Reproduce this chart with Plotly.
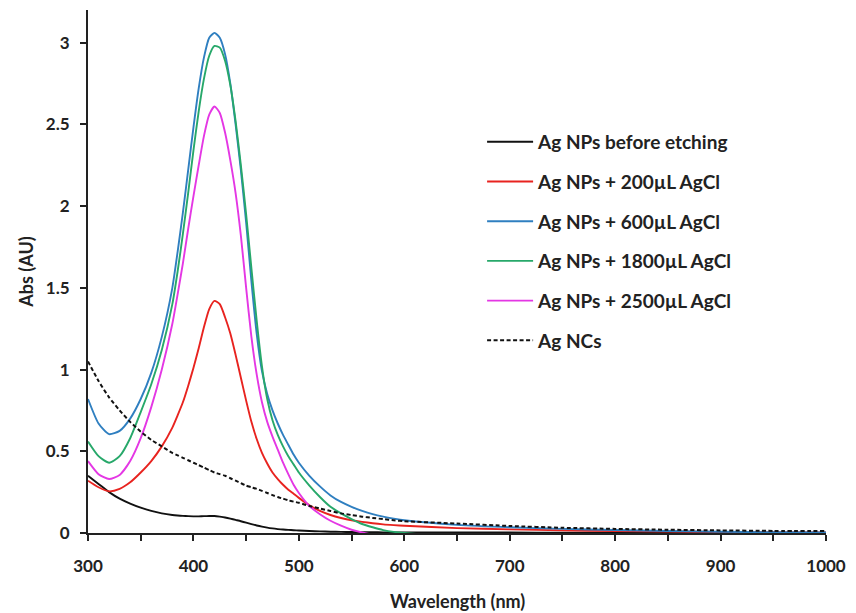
import plotly.graph_objects as go

# Wavelength grid (nm) shared by all spectra; finer steps around the plasmon band
wavelength = [300, 310, 320, 330, 340, 350, 360, 370, 380,
              385, 390, 395, 400, 405, 410, 415, 420, 425, 430, 435, 440,
              445, 450, 455, 460, 465, 470, 475, 480, 485, 490, 495, 500,
              510, 520, 530, 540, 550, 560, 570, 580, 590, 600,
              650, 700, 750, 800, 850, 900, 950, 1000]

# Absorbance spectra (AU)
np_before = [0.35, 0.30, 0.25, 0.21, 0.18, 0.155, 0.135, 0.12, 0.11,
             0.107, 0.105, 0.103, 0.102, 0.102, 0.103, 0.104, 0.104, 0.100, 0.095, 0.088, 0.080,
             0.072, 0.063, 0.054, 0.046, 0.039, 0.033, 0.028, 0.024, 0.021, 0.019, 0.017, 0.015,
             0.012, 0.010, 0.008, 0.007, 0.006, 0.005, 0.005, 0.004, 0.004, 0.004,
             0.003, 0.003, 0.002, 0.002, 0.002, 0.001, 0.001, 0.001]

np_200 = [0.32, 0.28, 0.255, 0.27, 0.31, 0.37, 0.44, 0.53, 0.645,
          0.72, 0.80, 0.90, 1.01, 1.13, 1.26, 1.37, 1.42, 1.40, 1.32, 1.22, 1.09,
          0.95, 0.81, 0.68, 0.575, 0.49, 0.425, 0.37, 0.33, 0.295, 0.265, 0.24, 0.215,
          0.17, 0.135, 0.11, 0.092, 0.078, 0.068, 0.060, 0.053, 0.048, 0.044,
          0.030, 0.022, 0.016, 0.012, 0.009, 0.007, 0.005, 0.004]

np_600 = [0.82, 0.67, 0.605, 0.625, 0.70, 0.82, 0.98, 1.20, 1.50,
          1.72, 1.96, 2.22, 2.48, 2.72, 2.91, 3.03, 3.06, 3.03, 2.93, 2.75, 2.50,
          2.22, 1.90, 1.54, 1.22, 0.99, 0.85, 0.75, 0.67, 0.60, 0.54, 0.48, 0.43,
          0.35, 0.285, 0.23, 0.19, 0.16, 0.135, 0.115, 0.10, 0.088, 0.078,
          0.05, 0.035, 0.025, 0.018, 0.012, 0.008, 0.005, 0.003]

np_1800 = [0.56, 0.47, 0.43, 0.47, 0.58, 0.74, 0.91, 1.12, 1.40,
           1.60, 1.83, 2.08, 2.34, 2.58, 2.78, 2.92, 2.98, 2.97, 2.89, 2.74, 2.52,
           2.25, 1.95, 1.62, 1.30, 1.02, 0.82, 0.69, 0.60, 0.53, 0.47, 0.42, 0.37,
           0.29, 0.22, 0.16, 0.12, 0.085, 0.055, 0.035, 0.018, 0.007, 0.0,
           -0.02, -0.02, -0.02, -0.02, -0.02, -0.02, -0.02, -0.02]

np_2500 = [0.44, 0.36, 0.33, 0.355, 0.44, 0.58, 0.77, 1.00, 1.28,
           1.46, 1.65, 1.86, 2.06, 2.25, 2.43, 2.56, 2.61, 2.57, 2.45, 2.28, 2.08,
           1.82, 1.50, 1.20, 0.97, 0.80, 0.68, 0.59, 0.51, 0.43, 0.36, 0.295, 0.245,
           0.165, 0.115, 0.075, 0.045, 0.02, 0.003, -0.01, -0.02, -0.02, -0.02,
           -0.02, -0.02, -0.02, -0.02, -0.02, -0.02, -0.02, -0.02]

ncs = [1.05, 0.93, 0.83, 0.75, 0.68, 0.62, 0.57, 0.53, 0.49,
       0.475, 0.46, 0.445, 0.43, 0.415, 0.40, 0.385, 0.37, 0.36, 0.35, 0.335, 0.32,
       0.305, 0.29, 0.28, 0.27, 0.258, 0.245, 0.232, 0.22, 0.21, 0.20, 0.192, 0.185,
       0.165, 0.15, 0.135, 0.12, 0.11, 0.10, 0.092, 0.085, 0.078, 0.072,
       0.058, 0.043, 0.032, 0.025, 0.020, 0.016, 0.013, 0.012]

series = [
    ("Ag NPs before etching", np_before, "#111111", "solid"),
    ("Ag NPs + 200µL AgCl", np_200, "#e8231f", "solid"),
    ("Ag NPs + 600µL AgCl", np_600, "#2f7fc0", "solid"),
    ("Ag NPs + 1800µL AgCl", np_1800, "#27a86a", "solid"),
    ("Ag NPs + 2500µL AgCl", np_2500, "#e437e4", "solid"),
    ("Ag NCs", ncs, "#111111", "4px,2.5px"),
]

FONT = "Lato"
INK = "#222222"

fig = go.Figure()
for i, (name, vals, color, dash) in enumerate(series):
    fig.add_trace(go.Scatter(
        x=wavelength, y=vals, name=name, mode="lines",
        legendgroup=f"g{i}",
        line=dict(color=color, width=2 if dash != "solid" else 1.9, dash=dash,
                  shape="spline", smoothing=0.6),
    ))

axis_common = dict(
    showline=True, linecolor=INK, linewidth=2,
    ticks="outside", ticklen=6, tickwidth=1.5, tickcolor=INK,
    showgrid=False, zeroline=False,
    tickfont=dict(family=FONT, size=17, color=INK, weight=700),
)

fig.update_xaxes(
    range=[300, 1000], dtick=100, tick0=300,
    minor=dict(dtick=50, ticks="outside", ticklen=6, tickwidth=1.5, tickcolor=INK),
    ticklabelstandoff=11,
    **axis_common,
)
fig.update_yaxes(
    range=[0, 3.2], dtick=0.5, tick0=0,
    ticklabelstandoff=7,
    title=dict(text="Abs (AU)", font=dict(family=FONT, size=18, color=INK, weight=700),
               standoff=8),
    **axis_common,
)

# x-axis title placed below the tick labels
fig.add_annotation(
    text="Wavelength (nm)", xref="paper", yref="paper", x=0.5, y=-0.13,
    xanchor="center", yanchor="middle", showarrow=False,
    font=dict(family=FONT, size=18, color=INK, weight=700),
)

fig.update_layout(
    width=856, height=613,
    margin=dict(l=88, r=22, t=10, b=80),
    paper_bgcolor="white", plot_bgcolor="white",
    showlegend=True,
    legend=dict(
        x=0.534, y=0.784, xanchor="left", yanchor="top",
        font=dict(family=FONT, size=19, color=INK, weight=700),
        tracegroupgap=12, itemwidth=46, bgcolor="rgba(0,0,0,0)",
    ),
)

fig.write_html("out.html")
